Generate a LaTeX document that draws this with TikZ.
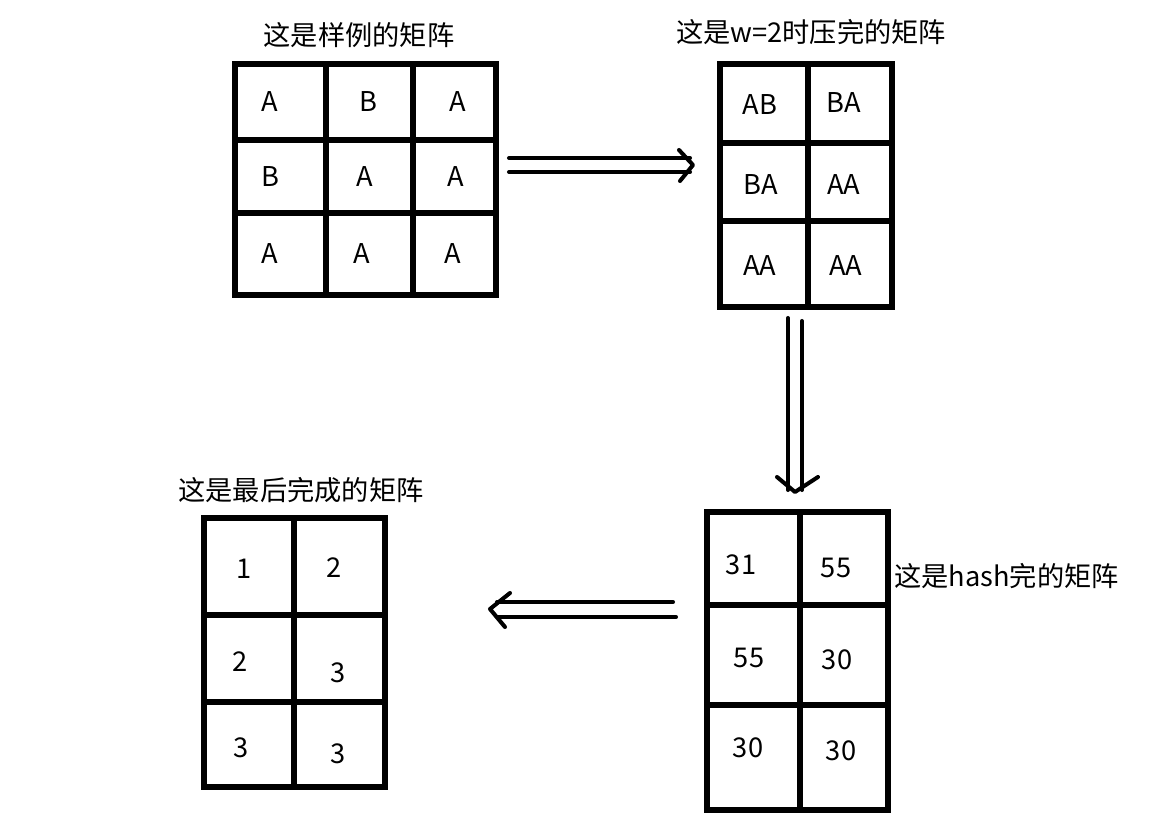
\documentclass[tikz,border=0pt]{standalone}
\usepackage{fontspec}
\setmainfont{Noto Sans CJK SC}
\begin{document}
\begin{tikzpicture}[x=0.02cm,y=-0.02cm,
  gridline/.style={line width=3pt,line cap=rect},
  arr/.style={line width=2.3pt,line cap=round,line join=round},
  txt/.style={inner sep=0pt,font=\fontsize{15.5pt}{17pt}\selectfont},
  ttl/.style={inner sep=0pt,font=\fontsize{15.5pt}{17pt}\selectfont}]
\useasboundingbox (0,0) rectangle (1150,817);
\fill[white] (0,0) rectangle (1150,817);

% titles
\node[ttl] (t1) at (359,35) {这是样例的矩阵};
\node[ttl] (t2) at (811,32) {这是w=2时压完的矩阵};
\node[ttl] (t4) at (301,490) {这是最后完成的矩阵};
\node[ttl,anchor=west] (t3) at (894,576) {这是hash完的矩阵};

% grid 1
\draw[gridline] (235,64) rectangle (496,295);
\draw[gridline] (326,64) -- (326,295);
\draw[gridline] (413,64) -- (413,295);
\draw[gridline] (235,140) -- (496,140);
\draw[gridline] (235,213) -- (496,213);
\node[txt] (a11) at (270,102) {A};
\node[txt] (a12) at (368,102) {B};
\node[txt] (a13) at (458,102) {A};
\node[txt] (a21) at (270,177) {B};
\node[txt] (a22) at (365,177) {A};
\node[txt] (a23) at (456,177) {A};
\node[txt] (a31) at (270,254) {A};
\node[txt] (a32) at (362,254) {A};
\node[txt] (a33) at (453,254) {A};

% grid 2
\draw[gridline] (720,64) rectangle (892,307);
\draw[gridline] (808,64) -- (808,307);
\draw[gridline] (720,143) -- (892,143);
\draw[gridline] (720,221) -- (892,221);
\node[txt] (b11) at (760,105) {AB};
\node[txt] (b12) at (844,103) {BA};
\node[txt] (b21) at (761,185) {BA};
\node[txt] (b22) at (844,185) {AA};
\node[txt] (b31) at (760,266) {AA};
\node[txt] (b32) at (846,266) {AA};

% grid 3 (hash)
\draw[gridline] (707,512) rectangle (888,810);
\draw[gridline] (800,512) -- (800,810);
\draw[gridline] (707,605) -- (888,605);
\draw[gridline] (707,705) -- (888,705);
\node[txt] (c11) at (741,565) {31};
\node[txt] (c12) at (836,568) {55};
\node[txt] (c21) at (749,658) {55};
\node[txt] (c22) at (837,660) {30};
\node[txt] (c31) at (748,748) {30};
\node[txt] (c32) at (841,751) {30};

% grid 4 (final)
\draw[gridline] (204,518) rectangle (385,787);
\draw[gridline] (294,518) -- (294,787);
\draw[gridline] (204,615) -- (385,615);
\draw[gridline] (204,702) -- (385,702);
\node[txt] (d11) at (244,569) {1};
\node[txt] (d12) at (334,568) {2};
\node[txt] (d21) at (240,662) {2};
\node[txt] (d22) at (338,673) {3};
\node[txt] (d31) at (241,748) {3};
\node[txt] (d32) at (338,754) {3};

% arrow 1 (right)
\coordinate (r1s) at (509,158);
\coordinate (r1e) at (690,158);
\coordinate (r2s) at (509,172);
\coordinate (r2e) at (690,172);
\coordinate (rtip) at (693,165);
\draw[arr] (r1s) -- (r1e);
\draw[arr] (r2s) -- (r2e);
\draw[arr] (679,150) -- (rtip) -- (680,181);

% arrow 2 (down)
\coordinate (d1s) at (788,318);
\coordinate (d1e) at (788,490);
\coordinate (d2s) at (802,321);
\coordinate (d2e) at (802,490);
\coordinate (dtip) at (795,492);
\draw[arr] (d1s) -- (d1e);
\draw[arr] (d2s) -- (d2e);
\draw[arr] (777,477) -- (dtip) -- (818,477);

% arrow 3 (left)
\coordinate (l1s) at (673,602);
\coordinate (l1e) at (497,602);
\coordinate (l2s) at (676,617);
\coordinate (l2e) at (497,617);
\coordinate (ltip) at (490,609);
\draw[arr] (l1s) -- (l1e);
\draw[arr] (l2s) -- (l2e);
\draw[arr] (510,593) -- (ltip) -- (505,627);
\end{tikzpicture}
\end{document}
